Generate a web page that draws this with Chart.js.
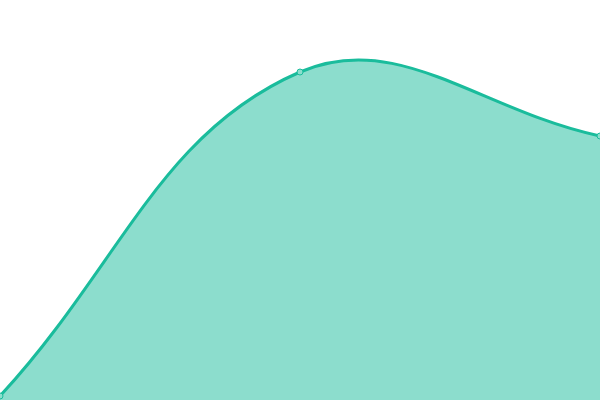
<!DOCTYPE html>
<html>
<head>
<meta charset="utf-8">
<script src="https://cdn.jsdelivr.net/npm/chart.js@4"></script>
<style>
  html, body { margin: 0; padding: 0; background: #fff; }
  .chart-box { width: 600px; height: 400px; }
</style>
</head>
<body>
<div class="chart-box"><canvas id="areaChart"></canvas></div>
<script>
// بيانات الرسم
const labels = ["A", "B", "C"];
const values = [1, 82, 66];
const yMin = 0;
const yMax = 100;

const ctx = document.getElementById("areaChart");
new Chart(ctx, {
  type: "line",
  data: {
    labels: labels,
    datasets: [
      {
        data: values,
        fill: "start",
        tension: 0.4,
        borderColor: "#1abc9c",
        backgroundColor: "rgba(26, 188, 156, 0.5)",
        borderWidth: 3,
        pointRadius: 3,
        pointBackgroundColor: "rgba(140, 222, 205, 1)",
        pointBorderColor: "#1abc9c",
        pointBorderWidth: 1,
      },
    ],
  },
  options: {
    responsive: true,
    maintainAspectRatio: false,
    animation: false,
    layout: { padding: 0, autoPadding: false },
    plugins: {
      legend: { display: false },
      tooltip: { enabled: false },
    },
    scales: {
      x: { display: false, offset: false },
      y: { display: false, min: yMin, max: yMax },
    },
  },
});
</script>
</body>
</html>
